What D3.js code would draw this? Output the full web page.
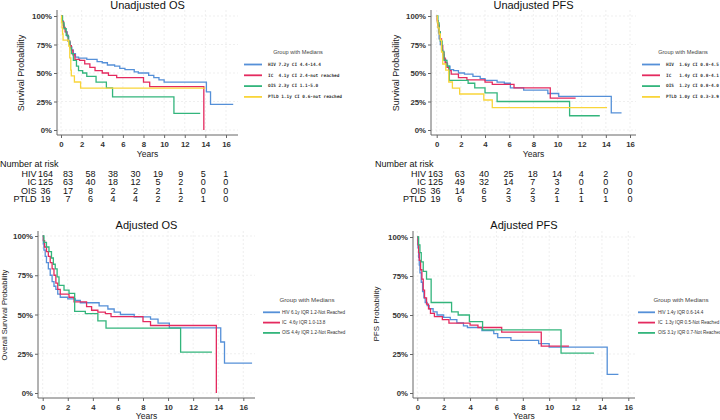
<!DOCTYPE html>
<html>
<head>
<meta charset="utf-8">
<script src="https://cdn.jsdelivr.net/npm/d3@7"></script>
<style>
  body { margin: 0; background: #fff; }
  svg { display: block; font-family: "Liberation Sans", Arial, sans-serif; }
</style>
</head>
<body>
<svg id="chart" width="720" height="420"></svg>
<script>
// ---- data ----
const yearTicks = [0, 2, 4, 6, 8, 10, 12, 14, 16];
const probTicks = [0, 0.25, 0.5, 0.75, 1];
const groups4 = ["HIV", "IC", "OIS", "PTLD"];

// unadjusted OS  [years, survival]
const osHiv = [[0,1],[0.1,0.96],[0.2,0.92],[0.3,0.89],[0.45,0.86],[0.6,0.82],[0.75,0.77],[0.9,0.73],[1.05,0.7],[1.2,0.67],[1.4,0.64],[1.7,0.63],[2.5,0.62],[3.5,0.6],[4,0.59],[4.5,0.57],[5.2,0.56],[5.7,0.54],[6.2,0.53],[7.1,0.51],[7.5,0.5],[8.5,0.48],[9,0.46],[9.5,0.44],[10,0.42],[14.1,0.335],[14.5,0.224],[16.7,0.224]];
const osIc = [[0,1],[0.1,0.95],[0.25,0.9],[0.4,0.86],[0.55,0.83],[0.7,0.78],[0.85,0.74],[1,0.7],[1.15,0.66],[1.35,0.62],[1.8,0.61],[2.3,0.58],[2.8,0.55],[3.3,0.52],[4,0.5],[4.6,0.48],[5.4,0.46],[8,0.42],[8.6,0.38],[13.85,0]];
const osOis = [[0,1],[0.15,0.94],[0.3,0.89],[0.5,0.83],[0.7,0.78],[0.85,0.72],[1,0.67],[1.2,0.61],[1.5,0.56],[1.7,0.52],[2.1,0.5],[2.5,0.47],[3.4,0.42],[4.4,0.37],[5,0.29],[10.95,0.146],[13.5,0.146]];
const osPtld = [[0,1],[0.05,0.947],[0.1,0.895],[0.15,0.842],[0.2,0.789],[0.75,0.737],[0.85,0.632],[0.95,0.526],[1,0.474],[1.3,0.421],[1.9,0.368],[14,0.368]];

// unadjusted PFS
const pfsHiv = [[0,1],[0.05,0.95],[0.1,0.9],[0.15,0.85],[0.2,0.8],[0.3,0.75],[0.4,0.7],[0.5,0.66],[0.6,0.62],[0.75,0.58],[0.9,0.56],[1.1,0.53],[1.4,0.52],[1.8,0.5],[2.3,0.49],[3,0.47],[3.6,0.45],[4,0.435],[5,0.42],[5.6,0.41],[6.1,0.37],[7.2,0.35],[9.2,0.32],[10.1,0.295],[14.45,0.15],[15.3,0.15]];
const pfsIc = [[0,1],[0.05,0.96],[0.1,0.92],[0.2,0.86],[0.3,0.8],[0.4,0.74],[0.5,0.68],[0.6,0.63],[0.7,0.59],[0.85,0.55],[1,0.52],[1.2,0.49],[1.8,0.46],[2.5,0.44],[4,0.42],[4.6,0.4],[6.4,0.37],[9.4,0.28],[11.5,0.28]];
const pfsOis = [[0,1],[0.1,0.94],[0.2,0.86],[0.3,0.78],[0.45,0.69],[0.6,0.61],[0.85,0.56],[1.05,0.435],[2.6,0.41],[3.15,0.37],[4,0.325],[5,0.25],[11,0.125],[13.5,0.125]];
const pfsPtld = [[0,1],[0.05,0.947],[0.1,0.895],[0.2,0.842],[0.3,0.789],[0.4,0.684],[0.5,0.579],[0.75,0.526],[1,0.421],[1.3,0.368],[1.9,0.316],[3.9,0.263],[4.6,0.197],[14.1,0.197]];

// adjusted OS
const adjOsHiv = [[0,1],[0.05,0.95],[0.1,0.91],[0.2,0.87],[0.3,0.83],[0.45,0.79],[0.6,0.75],[0.75,0.71],[0.9,0.68],[1.05,0.66],[1.2,0.63],[1.4,0.61],[2,0.6],[2.6,0.59],[3,0.575],[4.5,0.555],[5.2,0.535],[5.7,0.515],[6.2,0.5],[7.3,0.485],[8.6,0.47],[9.2,0.445],[10.1,0.415],[14.2,0.325],[14.5,0.19],[16.7,0.19]];
const adjOsIc = [[0,1],[0.05,0.97],[0.15,0.93],[0.3,0.9],[0.45,0.87],[0.6,0.83],[0.75,0.79],[0.9,0.75],[1.05,0.7],[1.2,0.66],[1.4,0.63],[2.1,0.61],[2.5,0.58],[3.5,0.55],[3.9,0.527],[4.4,0.515],[5,0.505],[5.45,0.487],[8,0.455],[8.6,0.43],[13.85,0]];
const adjOsOis = [[0,1],[0.1,0.96],[0.3,0.93],[0.5,0.9],[0.7,0.86],[0.85,0.82],[1,0.79],[1.15,0.74],[1.3,0.685],[1.7,0.655],[2.1,0.635],[2.55,0.52],[3.4,0.505],[4.4,0.46],[5.05,0.413],[11,0.26],[13.5,0.26]];

// adjusted PFS
const adjPfsHiv = [[0,1],[0.05,0.93],[0.1,0.87],[0.15,0.82],[0.2,0.77],[0.3,0.71],[0.4,0.65],[0.5,0.61],[0.6,0.58],[0.75,0.56],[0.9,0.54],[1.2,0.52],[1.5,0.5],[2,0.485],[2.5,0.47],[3,0.45],[3.5,0.43],[3.8,0.42],[4.9,0.4],[5.8,0.38],[6.1,0.355],[7.1,0.337],[9.2,0.316],[10,0.294],[14.4,0.119],[15.25,0.119]];
const adjPfsIc = [[0,1],[0.05,0.95],[0.1,0.9],[0.15,0.85],[0.25,0.79],[0.35,0.73],[0.45,0.66],[0.55,0.61],[0.7,0.57],[0.85,0.54],[1,0.51],[1.3,0.49],[1.9,0.47],[2.4,0.448],[4,0.435],[4.6,0.42],[6.4,0.39],[9.4,0.3],[11.5,0.3]];
const adjPfsOis = [[0,1],[0.1,0.95],[0.2,0.9],[0.3,0.84],[0.45,0.78],[0.7,0.73],[1.05,0.58],[2.6,0.52],[3.1,0.5],[3.95,0.457],[4.95,0.405],[10.9,0.256],[13.4,0.256]];

// number at risk (columns at 0,2,...,16 years)
const riskOsHiv = [164, 83, 58, 38, 30, 19, 9, 5, 1];
const riskOsIc = [125, 63, 40, 18, 12, 5, 2, 0, 0];
const riskOsOis = [36, 17, 8, 2, 2, 2, 1, 0, 0];
const riskOsPtld = [19, 7, 6, 4, 4, 2, 2, 1, 0];
const riskPfsHiv = [163, 63, 40, 25, 18, 14, 4, 2, 0];
const riskPfsIc = [125, 49, 32, 14, 7, 3, 0, 0, 0];
const riskPfsOis = [36, 14, 6, 2, 2, 2, 1, 0, 0];
const riskPfsPtld = [19, 6, 5, 3, 3, 1, 1, 1, 0];

// legend labels
const legOs = ["HIV 7.2y CI 4.4-14.4", "IC  4.1y CI 2.4-not reached", "OIS 2.3y CI 1.1-5.0", "PTLD 1.1y CI 0.6-not reached"];
const legPfs = ["HIV  1.6y CI 0.8-4.5", "IC   1.4y CI 0.8-4.1", "OIS  1.2y CI 0.8-4.0", "PTLD 1.0y CI 0.3-3.9"];
const legAdjOs = ["HIV 6.1y IQR 1.2-Not Reached", "IC  4.6y IQR 1.0-13.8", "OIS 4.4y IQR 1.2-Not Reached"];
const legAdjPfs = ["HIV 1.4y IQR 0.6-14.4", "IC  1.3y IQR 0.5-Not Reached", "OIS 3.1y IQR 0.7-Not Reached"];

const colors = { HIV: "#5590d8", IC: "#e42a5f", OIS: "#33b57c", PTLD: "#f9d53a" };

// ---- drawing ----
let svg = d3.select("#chart");

function drawPanel(p) {
  let x = d3.scaleLinear().domain([0, 16]).range(p.xRange);
  let y = d3.scaleLinear().domain([0, 1]).range(p.yRange);
  let g = svg.append("g");
  let [bl, bt, br, bb] = p.box;

  // grid
  g.selectAll("line.vg").data(yearTicks).join("line")
    .attr("x1", d => x(d)).attr("x2", d => x(d)).attr("y1", bt).attr("y2", bb)
    .attr("stroke", "#e8e8e8").attr("stroke-dasharray", "2,2").attr("stroke-width", 0.7);
  g.selectAll("line.hg").data(probTicks).join("line")
    .attr("y1", d => y(d)).attr("y2", d => y(d)).attr("x1", bl).attr("x2", br)
    .attr("stroke", "#e8e8e8").attr("stroke-dasharray", "2,2").attr("stroke-width", 0.7);

  // axes
  let xAxis = g.append("g").attr("transform", "translate(0," + bb + ")")
    .call(d3.axisBottom(x).tickValues(yearTicks).tickSize(3).tickPadding(3).tickSizeOuter(0));
  let yAxis = g.append("g").attr("transform", "translate(" + bl + ",0)")
    .call(d3.axisLeft(y).tickValues(probTicks).tickFormat(d3.format(".0%")).tickSize(3).tickPadding(2).tickSizeOuter(0));
  [xAxis, yAxis].forEach(a => {
    a.select(".domain").remove();
    a.selectAll("line").attr("stroke", "#666");
    a.selectAll("text").attr("font-size", 7.8).attr("font-weight", "bold").attr("fill", "#333")
      .attr("font-family", "Liberation Sans, Arial, sans-serif");
  });
  g.append("line").attr("x1", bl).attr("x2", br).attr("y1", bb).attr("y2", bb).attr("stroke", "#666");
  g.append("line").attr("x1", bl).attr("x2", bl).attr("y1", bt).attr("y2", bb).attr("stroke", "#666");

  // labels
  g.append("text").attr("x", (bl + br) / 2).attr("y", p.titleY).attr("text-anchor", "middle")
    .attr("font-size", 11).attr("fill", "#111").text(p.title);
  g.append("text").attr("x", (bl + br) / 2).attr("y", p.yearsY).attr("text-anchor", "middle")
    .attr("font-size", 8.5).attr("fill", "#222").text("Years");
  g.append("text").attr("transform", "translate(" + p.yLabX + "," + p.yLabY + ") rotate(-90)")
    .attr("text-anchor", "middle").attr("dominant-baseline", "middle")
    .attr("font-size", p.yLabSize).attr("fill", "#222").text(p.yLab);

  // curves
  let line = d3.line().x(d => x(d[0])).y(d => y(d[1])).curve(d3.curveStepAfter);
  p.series.forEach(s => {
    g.append("path").datum(s.data).attr("d", line)
      .attr("fill", "none").attr("stroke", colors[s.name]).attr("stroke-width", 1.3);
  });

  // legend
  let lg = g.append("g");
  lg.append("text").attr("x", p.leg.titleX).attr("y", p.leg.titleY).attr("text-anchor", "middle")
    .attr("dominant-baseline", "middle").attr("font-size", p.leg.titleSize).attr("fill", "#444").text("Group with Medians");
  p.series.forEach((s, i) => {
    let ly = p.leg.y0 + i * p.leg.dy;
    lg.append("line").attr("x1", p.leg.x0).attr("x2", p.leg.x1).attr("y1", ly).attr("y2", ly)
      .attr("stroke", colors[s.name]).attr("stroke-width", 1.8);
    lg.append("text").attr("x", p.leg.tx).attr("y", ly).attr("dominant-baseline", "middle")
      .attr("font-size", p.leg.size).attr("font-family", p.leg.font).attr("font-weight", p.leg.weight)
      .attr("fill", "#333").attr("xml:space", "preserve").text(p.legLabels[i]);
  });

  // number at risk table
  if (p.risk) {
    let tx = d3.scaleLinear().domain([0, 16]).range(p.risk.colRange);
    g.append("text").attr("x", p.risk.headX).attr("y", p.risk.headY)
      .attr("font-size", 9).attr("fill", "#111").text("Number at risk");
    p.risk.rows.forEach((r, i) => {
      let ry = p.risk.row0 + i * p.risk.rowDy;
      g.append("text").attr("x", p.risk.labX).attr("y", ry).attr("text-anchor", "end")
        .attr("font-size", 9).attr("fill", "#111").text(groups4[i]);
      g.selectAll(null).data(r).join("text")
        .attr("x", (d, j) => tx(yearTicks[j])).attr("y", ry).attr("text-anchor", "middle")
        .attr("font-size", 9).attr("fill", "#111").text(d => d);
    });
  }
}

const monoLeg = (titleX, titleY, x0, tx) => ({
  titleX: titleX, titleY: titleY, titleSize: 5.6, x0: x0, x1: x0 + 18, tx: tx,
  y0: 64.5, dy: 10.8, size: 4.4, font: "DejaVu Sans Mono, monospace", weight: "bold"
});
const sansLeg = (titleX, x0, tx) => ({
  titleX: titleX, titleY: 300, titleSize: 6.2, x0: x0, x1: x0 + 17, tx: tx,
  y0: 312.3, dy: 10.3, size: 4.6, font: "Liberation Sans, Arial, sans-serif", weight: "normal"
});

drawPanel({
  title: "Unadjusted OS", titleY: 9, yearsY: 157, yLab: "Survival Probability", yLabX: 22, yLabY: 73, yLabSize: 9,
  box: [57, 10, 238, 135], xRange: [61, 226], yRange: [130, 16],
  series: [{ name: "HIV", data: osHiv }, { name: "IC", data: osIc }, { name: "OIS", data: osOis }, { name: "PTLD", data: osPtld }],
  legLabels: legOs, leg: monoLeg(298, 52.7, 244, 268),
  risk: { headX: 0, headY: 166.5, labX: 36.5, row0: 176.7, rowDy: 8.55, colRange: [45.5, 225.7],
          rows: [riskOsHiv, riskOsIc, riskOsOis, riskOsPtld] }
});

drawPanel({
  title: "Unadjusted PFS", titleY: 9, yearsY: 157, yLab: "Survival Probability", yLabX: 397, yLabY: 73, yLabSize: 9,
  box: [431, 10, 636, 135], xRange: [436.7, 630], yRange: [130, 16],
  series: [{ name: "HIV", data: pfsHiv }, { name: "IC", data: pfsIc }, { name: "OIS", data: pfsOis }, { name: "PTLD", data: pfsPtld }],
  legLabels: legPfs, leg: monoLeg(683, 52.7, 642, 666),
  risk: { headX: 375, headY: 166.5, labX: 426, row0: 176.7, rowDy: 8.55, colRange: [435.5, 630],
          rows: [riskPfsHiv, riskPfsIc, riskPfsOis, riskPfsPtld] }
});

drawPanel({
  title: "Adjusted OS", titleY: 228.5, yearsY: 418.5, yLab: "Overall Survival Probability", yLabX: 4.5, yLabY: 315, yLabSize: 7.6,
  box: [38, 231, 255, 398], xRange: [42.7, 243.3], yRange: [393, 236],
  series: [{ name: "HIV", data: adjOsHiv }, { name: "IC", data: adjOsIc }, { name: "OIS", data: adjOsOis }],
  legLabels: legAdjOs, leg: sansLeg(307, 263, 282)
});

drawPanel({
  title: "Adjusted PFS", titleY: 228.5, yearsY: 418.5, yLab: "PFS Probability", yLabX: 377, yLabY: 314, yLabSize: 8,
  box: [413, 231, 635, 398], xRange: [417.3, 628.3], yRange: [393, 237],
  series: [{ name: "HIV", data: adjPfsHiv }, { name: "IC", data: adjPfsIc }, { name: "OIS", data: adjPfsOis }],
  legLabels: legAdjPfs, leg: sansLeg(681, 638, 658)
});
</script>
</body>
</html>
